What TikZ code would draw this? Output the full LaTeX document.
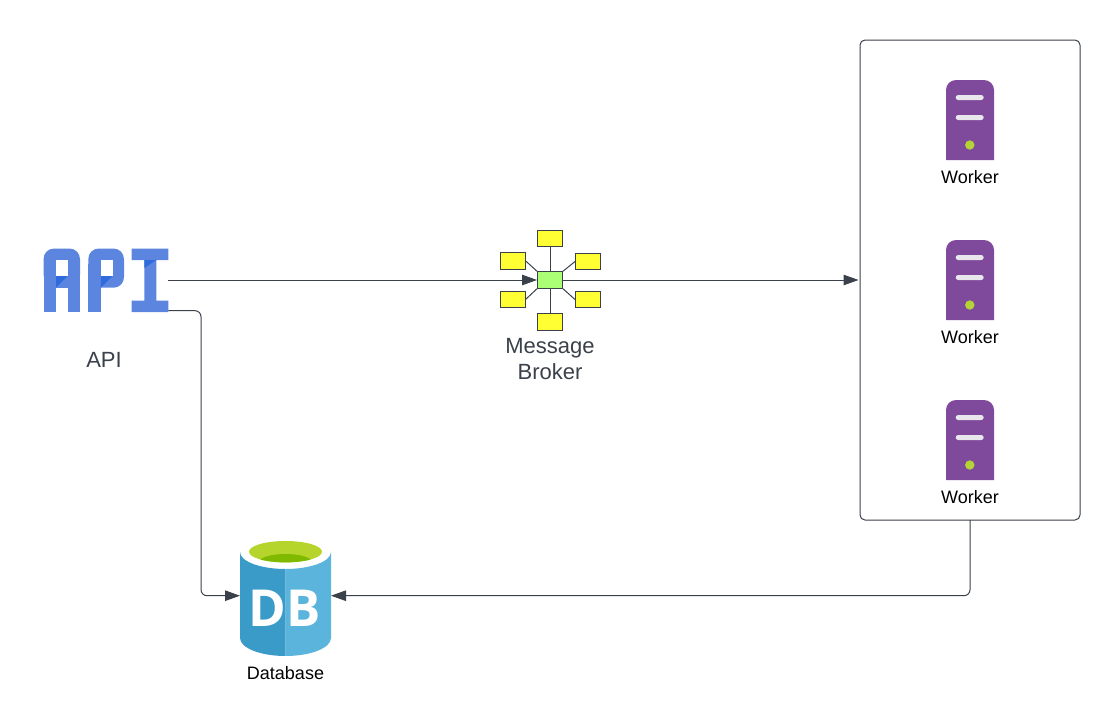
\documentclass[tikz,border=0pt]{standalone}
\usepackage{fontspec}
\setmainfont{Liberation Sans}
\newfontfamily\dbfont{Open Sans}
\usetikzlibrary{calc,positioning,arrows.meta}
\definecolor{inkgray}{HTML}{3A414A}
\definecolor{apiblue}{HTML}{5C85E0}
\definecolor{apidark}{HTML}{2F6BDC}
\definecolor{msgyellow}{HTML}{FFFF33}
\definecolor{hubgreen}{HTML}{AAFF77}
\definecolor{srvpurple}{HTML}{7F4A9B}
\definecolor{srvbar}{HTML}{E8E8EC}
\definecolor{srvdot}{HTML}{B5D334}
\definecolor{dbleft}{HTML}{3A9AC8}
\definecolor{dbright}{HTML}{5AB4DC}
\definecolor{dbtop}{HTML}{B5D52C}
\definecolor{dbinner}{HTML}{7FBA00}
\tikzset{
ghost/.style={
  inner sep=0pt,
  outer sep=0pt
  },
link/.style={
  draw=inkgray,
  line width=1pt,
  rounded corners=6pt
  },
msgbox/.style={
  draw=inkgray,
  fill=msgyellow,
  line width=1pt,
  inner sep=0pt,
  minimum width=25pt,
  minimum height=16.5pt
  },
spoke/.style={
  draw=inkgray,
  line width=1pt
  },
biglabel/.style={
  text=inkgray,
  font=\fontsize{22}{26.5}\selectfont,
  align=center
  },
smalllabel/.style={
  text=black,
  font=\fontsize{18}{21}\selectfont
  }
}

\begin{document}
\begin{tikzpicture}[x=1pt,y=-1pt,>={Triangle[length=15pt,width=10.5pt]}]
            \useasboundingbox (0,0) rectangle (1120,726);
            % api logo
            \fill[apiblue,rounded corners=10.5pt] (43.5,248.5) rectangle (80,285);
            \fill[apiblue] (43.5,264) rectangle (80,312);
            \fill[white] (56,260) rectangle (67.7,276);
            \fill[white] (56,287.7) rectangle (67.7,312.5);
            \fill[apidark] (56,276) -- (67.7,276) -- (56,287.7) -- cycle;
            \fill[apiblue,rounded corners=10.5pt] (88.3,248.5) rectangle (124,287.7);
            \fill[apiblue] (88.3,264) rectangle (100.8,312);
            \fill[white] (100.8,260) rectangle (112.5,276);
            \fill[apidark] (100.8,276) -- (112.5,276) -- (100.8,287.7) -- cycle;
            \fill[apiblue] (131.7,248.5) -- (168.3,248.5) -- (168.3,260) -- (156.3,260) -- (156.3,300.7) -- (168.3,300.7) -- (168.3,312) -- (131.7,312) -- (131.7,300.7) -- (144.3,300.7) -- (144.3,260) -- (131.7,260) -- cycle;
            \fill[apidark] (144.3,260) -- (156.3,260) -- (144.3,268) -- cycle;
            \node[ghost,minimum width=124.8pt,minimum height=64pt] (apilogo) at (105.9,280) {};
            \node[biglabel] (apilabel) at (104,360) {API};
            % broker
            \node[msgbox,fill=hubgreen] (hub) at (550,280) {};
            \node[msgbox] (msgtop) at (550,238.3) {};
            \node[msgbox] (msgbot) at (550,321.8) {};
            \node[msgbox] (msglt) at (512.5,260.8) {};
            \node[msgbox] (msgrt) at (588,261.5) {};
            \node[msgbox] (msglb) at (512.5,299.5) {};
            \node[msgbox] (msgrb) at (588,299.5) {};
            \draw[spoke] (msgtop) -- (hub);
            \draw[spoke] (msgbot) -- (hub);
            \draw[spoke] (msglt.east) -- (hub.north west);
            \draw[spoke] (msgrt.west) -- (hub.north east);
            \draw[spoke] (msglb.east) -- (hub.south west);
            \draw[spoke] (msgrb.west) -- (hub.south east);
            \node[biglabel] (brokerlabel) at (550,359) {Message\\Broker};
            % workers
            \node[draw=inkgray,line width=1pt,rounded corners=5pt,ghost,minimum width=220pt,minimum height=480pt] (pool) at (970,280) {};
            \foreach \i/\y in {1/80,2/240,3/400} {
                \fill[srvpurple,rounded corners=10pt] (946,\y+80) [sharp corners] -- (946,\y+40) [rounded corners=10pt] -- (946,\y) -- (994,\y) [sharp corners] -- (994,\y+40) -- (994,\y+80) -- cycle;
                \fill[srvbar,rounded corners=2.5pt] (955.7,\y+15) rectangle (983.7,\y+20);
                \fill[srvbar,rounded corners=2.5pt] (955.7,\y+35) rectangle (983.7,\y+40);
                \fill[srvdot] (969.8,\y+65) circle (4.7);
                \node[ghost,minimum width=48pt,minimum height=80pt] (server\i) at (970,\y+40) {};
                \node[smalllabel] (worker\i) at (970,\y+97) {Worker};
            }
            % database
            \fill[dbleft] (240,552) -- (240,638) arc[start angle=180,end angle=90,x radius=45.5,y radius=18] -- (285.5,569) arc[start angle=90,end angle=180,x radius=45.5,y radius=17] -- cycle;
            \fill[dbright] (331,552) -- (331,638) arc[start angle=0,end angle=90,x radius=45.5,y radius=18] -- (285.5,569) arc[start angle=90,end angle=0,x radius=45.5,y radius=17] -- cycle;
            \fill[dbtop] (285.5,551.7) ellipse[x radius=36.5,y radius=10.7];
            \begin{scope}
                \clip (285.5,551.7) ellipse[x radius=36.5,y radius=10.7];
                \fill[dbinner] (285.5,562.5) ellipse[x radius=27,y radius=8.5];
            \end{scope}
            \node[ghost,minimum width=91pt,minimum height=122pt] (dbicon) at (285.5,595.7) {};
            \node[ghost,text=white,font=\fontsize{51}{51}\selectfont\dbfont\bfseries] (dbmark) at (284.5,608) {DB};
            \node[smalllabel] (dblabel) at (285.5,673) {Database};
            % connectors
            \coordinate (apiout) at ($(apilogo.south east)+(0,-1.3)$);
            \coordinate (apibend) at ($(dbicon.west)+(-39,0)$);
            \draw[link,->] (apilogo.east) -- (hub.west);
            \draw[link,->,shorten >=1.5pt] (hub.east) -- (pool.west);
            \draw[link,->] (apiout) -| (apibend) -- (dbicon.west);
            \draw[link,->] (pool.south) |- (dbicon.east);
        \end{tikzpicture}
\end{document}
